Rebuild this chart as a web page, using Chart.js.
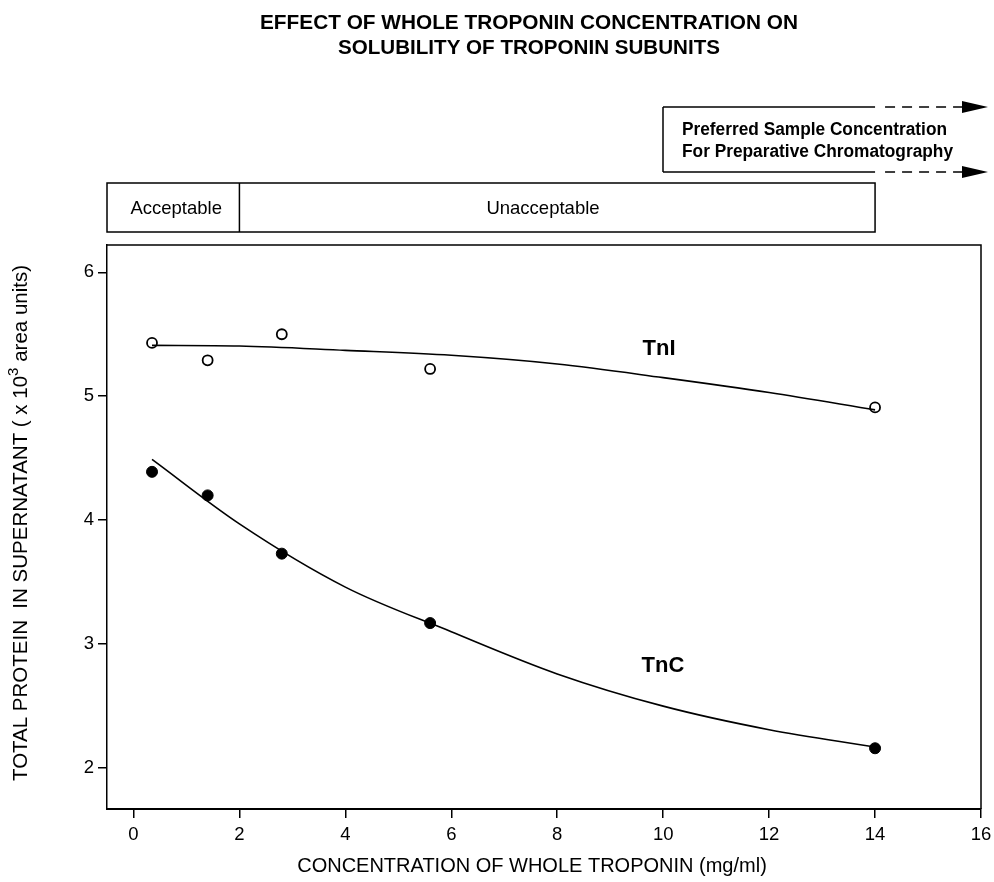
<!DOCTYPE html>
<html>
<head>
<meta charset="utf-8">
<script src="https://cdn.jsdelivr.net/npm/chart.js@4.4.0/dist/chart.umd.min.js"></script>
<style>
  body { margin: 0; background: #fff; }
  canvas { display: block; }
</style>
</head>
<body>
<canvas id="troponin" width="994" height="882"></canvas>
<script>
// measured points (mg/ml, area units x 10^3)
const concentration = [0.35, 1.4, 2.8, 5.6, 14];
const tnI = [5.43, 5.29, 5.50, 5.22, 4.91];
const tnC = [4.39, 4.20, 3.73, 3.17, 2.16];

// hand-drawn fit curves
const fitX = [0.35, 2, 4, 6, 8, 10, 12, 14];
const tnIFit = [5.41, 5.405, 5.37, 5.33, 5.26, 5.15, 5.03, 4.89];
const tnCFit = [4.49, 3.97, 3.46, 3.10, 2.76, 2.50, 2.31, 2.17];

const xTicks = [0, 2, 4, 6, 8, 10, 12, 14, 16];
const yTicks = [2, 3, 4, 5, 6];

const FONT = "'Liberation Sans', Arial, sans-serif";

function pts(xs, ys) {
  return xs.map((x, i) => ({ x: x, y: ys[i] }));
}

const annotations = {
  id: 'annotations',
  afterDraw(chart) {
    const ctx = chart.ctx;
    const a = chart.chartArea;
    const xs = chart.scales.x;
    ctx.save();
    ctx.strokeStyle = '#000';
    ctx.fillStyle = '#000';

    // frame
    ctx.lineWidth = 1.5;
    ctx.beginPath();
    ctx.moveTo(a.left, a.top);
    ctx.lineTo(a.right, a.top);
    ctx.lineTo(a.right, a.bottom);
    ctx.stroke();

    // title
    ctx.textAlign = 'center';
    ctx.textBaseline = 'middle';
    ctx.font = 'bold 21px ' + FONT;
    ctx.fillText('EFFECT OF WHOLE TROPONIN CONCENTRATION ON', 529, 23, 538);
    ctx.fillText('SOLUBILITY OF TROPONIN SUBUNITS', 529, 48, 382);

    // acceptable / unacceptable band
    const bx0 = xs.getPixelForValue(-0.5);
    const bx1 = xs.getPixelForValue(2);
    const bx2 = xs.getPixelForValue(14);
    ctx.lineWidth = 1.5;
    ctx.strokeRect(bx0, 183, bx2 - bx0, 49);
    ctx.beginPath();
    ctx.moveTo(bx1, 183);
    ctx.lineTo(bx1, 232);
    ctx.stroke();
    ctx.font = '18.5px ' + FONT;
    ctx.fillText('Acceptable', (bx0 + bx1) / 2 + 3, 209);
    ctx.fillText('Unacceptable', 543, 209);

    // preferred concentration box with arrows
    const px0 = 663;
    [107, 172].forEach(function (y) {
      ctx.setLineDash([]);
      ctx.beginPath();
      ctx.moveTo(px0, y);
      ctx.lineTo(bx2, y);
      ctx.stroke();
      ctx.setLineDash([10, 7]);
      ctx.beginPath();
      ctx.moveTo(bx2 + 10, y);
      ctx.lineTo(966, y);
      ctx.stroke();
      ctx.setLineDash([]);
      ctx.beginPath();
      ctx.moveTo(962, y - 6);
      ctx.lineTo(988, y);
      ctx.lineTo(962, y + 6);
      ctx.closePath();
      ctx.fill();
    });
    ctx.beginPath();
    ctx.moveTo(px0, 107);
    ctx.lineTo(px0, 172);
    ctx.stroke();
    ctx.textAlign = 'left';
    ctx.font = 'bold 17.5px ' + FONT;
    ctx.fillText('Preferred Sample Concentration', 682, 130, 265);
    ctx.fillText('For Preparative Chromatography', 682, 152, 271);

    // series labels
    ctx.textAlign = 'center';
    ctx.font = 'bold 22px ' + FONT;
    ctx.fillText('TnI', 659, 349);
    ctx.fillText('TnC', 663, 666);

    // axis titles
    ctx.font = '20px ' + FONT;
    ctx.fillText('CONCENTRATION OF WHOLE TROPONIN (mg/ml)', 532, 866);
    ctx.translate(21, 523);
    ctx.rotate(-Math.PI / 2);
    const t1 = 'TOTAL PROTEIN  IN SUPERNATANT ( x 10';
    const t2 = '3';
    const t3 = ' area units)';
    ctx.font = '20.5px ' + FONT;
    const w1 = ctx.measureText(t1).width;
    const w3 = ctx.measureText(t3).width;
    ctx.font = '15px ' + FONT;
    const w2 = ctx.measureText(t2).width;
    const start = -(w1 + w2 + w3) / 2;
    ctx.textAlign = 'left';
    ctx.font = '20.5px ' + FONT;
    ctx.fillText(t1, start, 0);
    ctx.fillText(t3, start + w1 + w2, 0);
    ctx.font = '15px ' + FONT;
    ctx.fillText(t2, start + w1, -7);
    ctx.restore();
  }
};

var chart = new Chart(document.getElementById('troponin').getContext('2d'),
{
  type: 'scatter',
  data: {
    datasets: [{
      label: 'TnI fit',
      data: pts(fitX, tnIFit),
      showLine: true,
      borderColor: '#000',
      borderWidth: 1.6,
      pointRadius: 0,
      cubicInterpolationMode: 'monotone'
    },
    {
      label: 'TnC fit',
      data: pts(fitX, tnCFit),
      showLine: true,
      borderColor: '#000',
      borderWidth: 1.6,
      pointRadius: 0,
      cubicInterpolationMode: 'monotone'
    },
    {
      label: 'TnI',
      data: pts(concentration, tnI),
      pointRadius: 5,
      pointBorderWidth: 1.8,
      pointBorderColor: '#000',
      pointBackgroundColor: '#fff'
    },
    {
      label: 'TnC',
      data: pts(concentration, tnC),
      pointRadius: 5.5,
      pointBorderWidth: 1,
      pointBorderColor: '#000',
      pointBackgroundColor: '#000'
    }]
  },
  options: {
    responsive: false,
    animation: false,
    layout: {
      padding: { top: 245, right: 13, left: 0, bottom: 0 }
    },
    plugins: {
      legend: { display: false },
      tooltip: { enabled: false }
    },
    scales: {
      x: {
        type: 'linear',
        min: -0.5,
        max: 16,
        afterFit: function (scale) {
          scale.height = 73;
          scale.paddingLeft = 0;
          scale.paddingRight = 0;
        },
        afterBuildTicks: function (scale) {
          scale.ticks = xTicks.map(v => ({ value: v }));
        },
        grid: {
          drawOnChartArea: false,
          tickLength: 9,
          color: '#000',
          lineWidth: 1.5
        },
        border: { color: '#000', width: 2 },
        ticks: {
          color: '#000',
          padding: 6,
          font: { family: FONT, size: 18.5 }
        }
      },
      y: {
        type: 'linear',
        min: 1.67,
        max: 6.22,
        afterFit: function (scale) {
          scale.width = 107;
          scale.paddingTop = 0;
          scale.paddingBottom = 0;
        },
        afterBuildTicks: function (scale) {
          scale.ticks = yTicks.map(v => ({ value: v }));
        },
        grid: {
          drawOnChartArea: false,
          tickLength: 9,
          color: '#000',
          lineWidth: 1.5
        },
        border: { color: '#000', width: 1.5 },
        ticks: {
          color: '#000',
          padding: 4,
          font: { family: FONT, size: 18.5 }
        }
      }
    }
  },
  plugins: [annotations]
});
</script>
</body>
</html>
